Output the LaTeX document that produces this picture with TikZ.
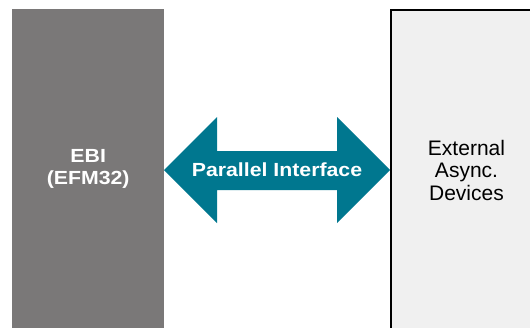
\documentclass[tikz,border=0pt]{standalone}
\usepackage{fontspec}
\setmainfont{Liberation Sans}
\newfontfamily\widefont[FakeStretch=1.12]{Liberation Sans}
\definecolor{ebigrey}{HTML}{7A7878}
\definecolor{teal2}{HTML}{00778F}
\definecolor{devfill}{HTML}{F0F0F0}
\begin{document}
\begin{tikzpicture}[x=1pt,y=1pt,
  boxtext/.style={align=center,inner sep=0pt},
  ebibox/.style={fill=ebigrey,text=white,font=\widefont\bfseries\fontsize{19}{22}\selectfont,boxtext},
  devbox/.style={fill=devfill,draw=black,line width=2pt,text=black,font=\fontsize{21}{22.5}\selectfont,boxtext},
  arrowfill/.style={fill=teal2,draw=none},
  arrowtext/.style={text=white,font=\widefont\bfseries\fontsize{19}{22}\selectfont,inner sep=0pt}]
\useasboundingbox (0,0) rectangle (530,-327);
\clip (0,0) rectangle (530,-327);
\node[ebibox,minimum width=152pt,minimum height=320pt,anchor=north west] (ebi) at (12,-9) {EBI\\(EFM32)};
\node[devbox,minimum width=151pt,minimum height=320pt,anchor=north west] (dev) at (390,-9) {External\\Async.\\Devices};
\path[arrowfill] (164,-170) coordinate (ltip) -- (217,-117) -- (217,-151) -- (337,-151) -- (337,-117) -- (390,-170) coordinate (rtip) -- (337,-223) -- (337,-190) -- (217,-190) -- (217,-223) -- cycle;
\node[arrowtext] (pif) at (277,-170) {Parallel Interface};
\end{tikzpicture}
\end{document}
